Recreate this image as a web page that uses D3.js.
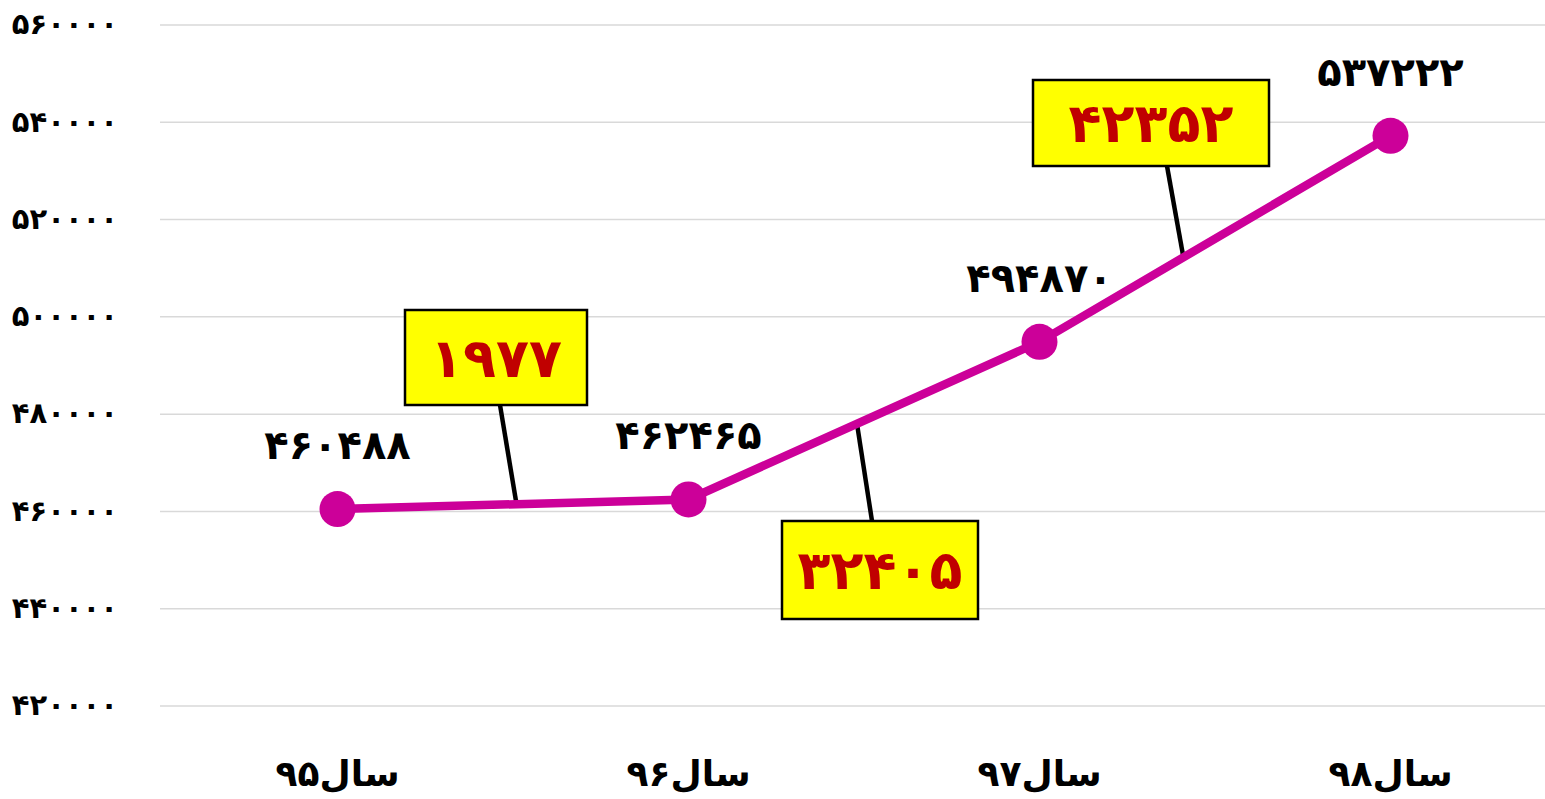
<!DOCTYPE html>
<html>
<head>
<meta charset="utf-8">
<script src="https://cdnjs.cloudflare.com/ajax/libs/d3/7.8.5/d3.min.js"></script>
<style>
  html, body { margin: 0; padding: 0; background: #fff; }
  svg { display: block; font-family: "DejaVu Sans", sans-serif; }
</style>
</head>
<body>
<svg id="chart" width="1545" height="799"></svg>
<script>
const categories = ['سال۹۵', 'سال۹۶', 'سال۹۷', 'سال۹۸'];
const values = [460488, 462465, 494870, 537222];
const diffs = [1977, 32405, 42352];
const yTicks = [420000, 440000, 460000, 480000, 500000, 520000, 540000, 560000];

// box placement relative to the segment (layout only)
const callouts = [
  { t: 0.51, box: [405, 310, 182, 95], anchor: [500, 405] },
  { t: 0.48, box: [782, 521, 196, 98], anchor: [872, 521] },
  { t: 0.41, box: [1033, 80, 236, 86], anchor: [1167, 166] },
];

const fa = (n) => String(n).replace(/\d/g, (d) => '۰۱۲۳۴۵۶۷۸۹'[d]);

const svg = d3.select('#chart');

const x = d3.scaleBand()
  .domain(categories)
  .range([162, 1566]);
const cx = (d) => x(d) + x.bandwidth() / 2;

const y = d3.scaleLinear()
  .domain([420000, 560000])
  .range([706, 25]);

// gridlines
svg.append('g')
  .selectAll('line')
  .data(yTicks)
  .join('line')
  .attr('x1', 160)
  .attr('x2', 1545)
  .attr('y1', (d) => y(d))
  .attr('y2', (d) => y(d))
  .attr('stroke', '#d9d9d9')
  .attr('stroke-width', 1.5);

// y tick labels
svg.append('g')
  .selectAll('text')
  .data(yTicks)
  .join('text')
  .attr('x', 118)
  .attr('y', (d) => y(d))
  .attr('dy', '0.32em')
  .attr('text-anchor', 'end')
  .attr('font-size', 29)
  .attr('font-weight', 'bold')
  .text((d) => fa(d));

// x labels
svg.append('g')
  .selectAll('text')
  .data(categories)
  .join('text')
  .attr('x', (d) => cx(d))
  .attr('y', 786)
  .attr('text-anchor', 'middle')
  .attr('font-size', 36)
  .attr('font-weight', 'bold')
  .text((d) => d);

const pts = categories.map((c, i) => [cx(c), y(values[i])]);

// leader lines (drawn under the series line)
const leaders = svg.append('g');

svg.append('path')
  .datum(pts)
  .attr('d', d3.line())
  .attr('fill', 'none')
  .attr('stroke', '#CC0099')
  .attr('stroke-width', 8.5);

svg.append('g')
  .selectAll('circle')
  .data(pts)
  .join('circle')
  .attr('cx', (d) => d[0])
  .attr('cy', (d) => d[1])
  .attr('r', 18)
  .attr('fill', '#CC0099');

// value labels
svg.append('g')
  .selectAll('text')
  .data(values)
  .join('text')
  .attr('x', (d, i) => pts[i][0])
  .attr('y', (d, i) => pts[i][1] - 50)
  .attr('text-anchor', 'middle')
  .attr('font-size', 40)
  .attr('font-weight', 'bold')
  .text((d) => fa(d));

// callouts with differences
callouts.forEach((c, i) => {
  const a = pts[i];
  const b = pts[i + 1];
  const px = a[0] + (b[0] - a[0]) * c.t;
  const py = a[1] + (b[1] - a[1]) * c.t;
  leaders.append('line')
    .attr('x1', c.anchor[0])
    .attr('y1', c.anchor[1])
    .attr('x2', px)
    .attr('y2', py)
    .attr('stroke', '#000')
    .attr('stroke-width', 4.5);

  const g = svg.append('g');
  g.append('rect')
    .attr('x', c.box[0])
    .attr('y', c.box[1])
    .attr('width', c.box[2])
    .attr('height', c.box[3])
    .attr('fill', '#FFFF00')
    .attr('stroke', '#000')
    .attr('stroke-width', 2.5);
  g.append('text')
    .attr('x', c.box[0] + c.box[2] / 2)
    .attr('y', c.box[1] + c.box[3] / 2)
    .attr('dy', '0.36em')
    .attr('text-anchor', 'middle')
    .attr('font-size', 54)
    .attr('font-weight', 'bold')
    .attr('fill', '#C00000')
    .text(fa(diffs[i]));
});
</script>
</body>
</html>
